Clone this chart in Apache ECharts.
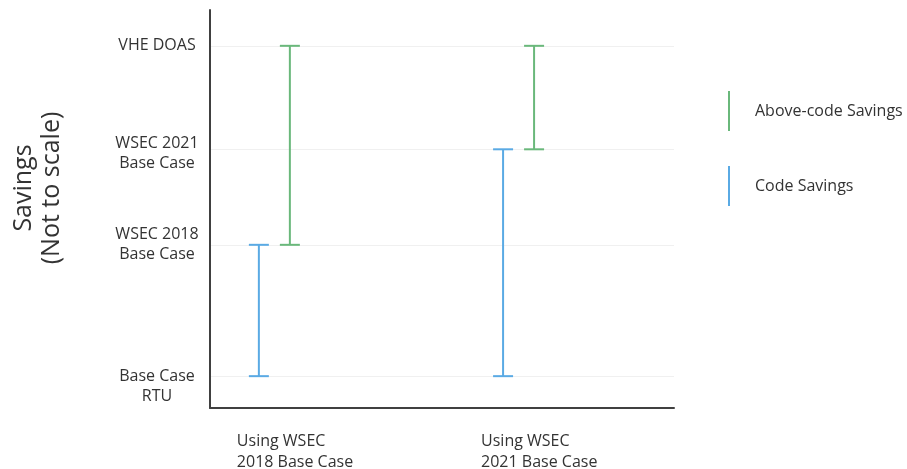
<!DOCTYPE html>
<html>
<head>
<meta charset="utf-8">
<script src="https://cdn.jsdelivr.net/npm/echarts@6/dist/echarts.min.js"></script>
<style>html,body{margin:0;padding:0;background:#fff;}#c{width:907px;height:469px;}</style>
</head>
<body>
<div id="c"></div>
<script>
// Categories (x axis)
const categories = ['Using WSEC\n2018 Base Case', 'Using WSEC\n2021 Base Case'];
// Level values on the (not to scale) savings axis
const levelValues = [0.8, 4.1, 6.5, 9.1];
const levelLabels = ['Base Case\nRTU', 'WSEC 2018\nBase Case', 'WSEC 2021\nBase Case', 'VHE DOAS'];
// Series ranges per category
const codeLow = [0.8, 0.8];
const codeHigh = [4.1, 6.5];
const aboveLow = [4.1, 6.5];
const aboveHigh = [9.1, 9.1];

const BLUE = '#5aaae4';
const GREEN = '#6ab87b';
const FONT = '"Open Sans", Lato, sans-serif';
// spacer style key per level label (pushes the text block down, as in the reference)
const labelSpacer = ['s20', null, 's8', null];

function makeRender(offsetPx) {
  return function (params, api) {
    const x = api.value(0);
    const lo = api.coord([x, api.value(1)]);
    const hi = api.coord([x, api.value(2)]);
    const px = lo[0] + offsetPx;
    const half = 10;
    const style = { stroke: api.visual('color'), lineWidth: 2, fill: null };
    return {
      type: 'group',
      children: [
        { type: 'line', shape: { x1: px, y1: lo[1], x2: px, y2: hi[1] }, style: style },
        { type: 'line', shape: { x1: px - half, y1: lo[1], x2: px + half, y2: lo[1] }, style: style },
        { type: 'line', shape: { x1: px - half, y1: hi[1], x2: px + half, y2: hi[1] }, style: style }
      ]
    };
  };
}

const chart = echarts.init(document.getElementById('c'));
chart.setOption({
  animation: false,
  backgroundColor: '#fff',
  textStyle: { fontFamily: FONT },
  grid: { left: 210, right: 233, top: 10, bottom: 61, containLabel: false, outerBoundsMode: 'none' },
  legend: {
    orient: 'vertical',
    left: 728,
    top: 91,
    padding: 0,
    itemWidth: 2,
    itemHeight: 40,
    itemGap: 35,
    textStyle: { fontSize: 16, color: '#333', padding: [0, 0, 0, 20], fontFamily: FONT },
    data: [
      { name: 'Above-code Savings', icon: 'rect' },
      { name: 'Code Savings', icon: 'rect' }
    ]
  },
  xAxis: {
    type: 'value',
    min: -0.11,
    max: 1.79,
    axisLine: { show: true, onZero: false, lineStyle: { color: '#404040', width: 2 } },
    axisTick: { show: false },
    splitLine: { show: false },
    axisLabel: {
      customValues: categories.map((c, i) => i),
      formatter: (v) => categories[Math.round(v)] || '',
      align: 'left',
      margin: 23,
      fontSize: 16,
      lineHeight: 21,
      color: '#333',
      fontFamily: FONT
    }
  },
  yAxis: {
    type: 'value',
    min: 0,
    max: 10,
    name: 'Savings\n(Not to scale)',
    nameLocation: 'middle',
    nameGap: 144,
    nameTextStyle: { fontSize: 25, lineHeight: 28, color: '#333', padding: [0, 0, 0, 42], fontFamily: FONT },
    axisLine: { show: true, onZero: false, lineStyle: { color: '#404040', width: 2 } },
    axisTick: { show: false, customValues: levelValues },
    splitLine: { show: true, lineStyle: { color: '#f0f0f0', width: 1 } },
    axisLabel: {
      customValues: levelValues,
      formatter: (v) => {
        const i = levelValues.findIndex(l => Math.abs(l - v) < 1e-6);
        if (i < 0) return '';
        const lines = levelLabels[i].split('\n').map(ln => '{t|' + ln + '}');
        if (labelSpacer[i]) lines.unshift('{' + labelSpacer[i] + '| }');
        return lines.join('\n');
      },
      align: 'center',
      margin: 53,
      color: '#333',
      rich: {
        t: { fontSize: 16, lineHeight: 20, color: '#333', fontFamily: FONT },
        s20: { fontSize: 4, lineHeight: 20 },
        s8: { fontSize: 4, lineHeight: 8 }
      }
    }
  },
  series: [
    {
      name: 'Code Savings',
      type: 'custom',
      color: BLUE,
      itemStyle: { color: BLUE },
      renderItem: makeRender(22),
      encode: { x: 0, y: [1, 2] },
      data: categories.map((c, i) => [i, codeLow[i], codeHigh[i]])
    },
    {
      name: 'Above-code Savings',
      type: 'custom',
      color: GREEN,
      itemStyle: { color: GREEN },
      renderItem: makeRender(53),
      encode: { x: 0, y: [1, 2] },
      data: categories.map((c, i) => [i, aboveLow[i], aboveHigh[i]])
    }
  ]
});
</script>
</body>
</html>
